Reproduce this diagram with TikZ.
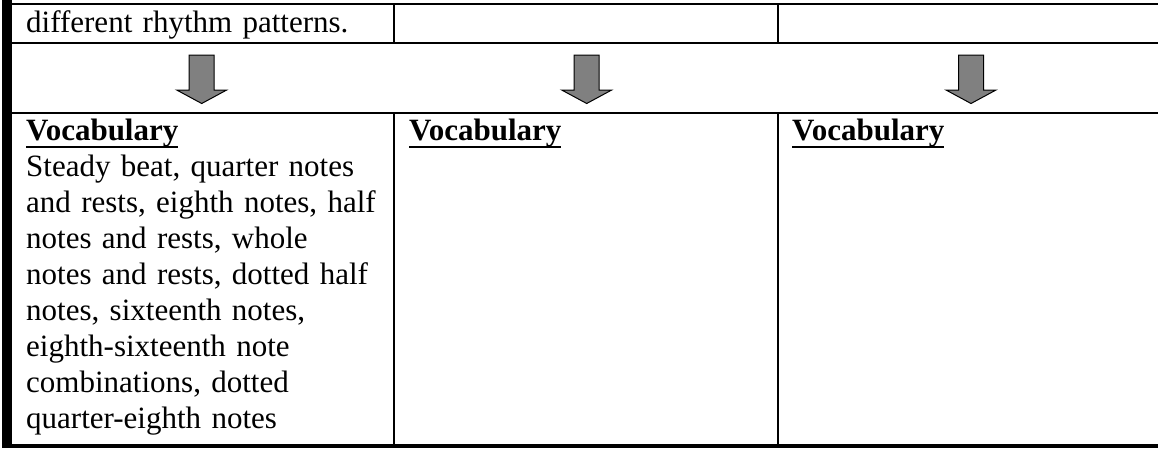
\documentclass[tikz,border=0pt]{standalone}
\usepackage{fontspec}
\setmainfont{Liberation Serif}
\definecolor{arrowgray}{HTML}{808080}
\newcommand{\ulword}[1]{\setbox0\hbox{#1}\rlap{\rule[-7.5pt]{\wd0}{1.4pt}}\box0}
\begin{document}
\begin{tikzpicture}[x=1pt,y=-1pt,
  gridline/.style={line width=2pt},
  bottomline/.style={line width=4pt},
  celltext/.style={anchor=base west, inner sep=0pt, align=left, text width=370pt,
    font=\fontsize{31}{36}\selectfont},
  blockarrow/.style={fill=arrowgray, draw=black, line width=1pt, line join=miter}]
\useasboundingbox (0,0) rectangle (1158,448);
% left heavy border
\fill (2,0) rectangle (12,448);
% horizontal rules
\draw[gridline] (12,4) -- (1158,4);
\draw[gridline] (12,43) -- (1158,43);
\draw[gridline] (12,113) -- (1158,113);
\draw[bottomline] (12,446) -- (1158,446);
% vertical rules
\draw[gridline] (394.3,4) -- (394.3,43);
\draw[gridline] (777.7,4) -- (777.7,43);
\draw[gridline] (394.3,113) -- (394.3,446);
\draw[gridline] (777.7,113) -- (777.7,446);
% texts
\node[celltext] (top1) at (26,32) {different rhythm patterns.};
\node[celltext] (voc1) at (26,140) {\textbf{\ulword{Vocabulary}}\\
Steady beat, quarter notes\\
and rests, eighth notes, half\\
notes and rests, whole\\
notes and rests, dotted half\\
notes, sixteenth notes,\\
eighth-sixteenth note\\
combinations, dotted\\
quarter-eighth notes};
\node[celltext] (voc2) at (409,140) {\textbf{\ulword{Vocabulary}}};
\node[celltext] (voc3) at (792,140) {\textbf{\ulword{Vocabulary}}};
% block arrows
\foreach \cx/\nm in {201.7/arrA, 586.7/arrB, 971/arrC}{
  \draw[blockarrow] (\cx-12.5,55) -- (\cx+12.5,55) -- (\cx+12.5,90) -- (\cx+25,90)
    -- (\cx,103.5) -- (\cx-25,90) -- (\cx-12.5,90) -- cycle;
}
\end{tikzpicture}
\end{document}
